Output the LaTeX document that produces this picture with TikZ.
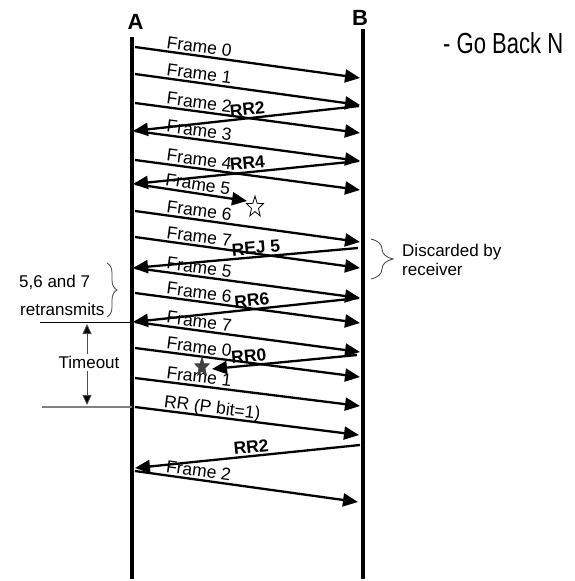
\documentclass[tikz,border=0pt]{standalone}
\usepackage{fontspec}
\usepackage{graphicx}
\setmainfont{Liberation Sans}
\usetikzlibrary{arrows.meta,shapes.geometric,decorations.pathreplacing}

\begin{document}
\begin{tikzpicture}[x=1pt,y=-1pt,
  lifeline/.style={line width=3.2pt},
  msg/.style={line width=2.3pt,-{Triangle[length=15pt,width=13pt]}},
  flab/.style={sloped,above=2pt,inner sep=0pt,text depth=0pt,font=\fontsize{17.5}{20}\selectfont},
  rlab/.style={sloped,above=2pt,inner sep=0pt,text depth=0pt,font=\fontsize{17.5}{20}\selectfont\bfseries},
  note/.style={inner sep=0pt,font=\fontsize{17}{20}\selectfont},
  station/.style={inner sep=0pt,font=\fontsize{22}{24}\selectfont\bfseries},
  curly/.style={decorate,line width=0.8pt,draw=black!75},
  lost/.style={star,star points=5,star point ratio=2.4,inner sep=0pt,transform shape}
]
\useasboundingbox (0,0) rectangle (575,581);

% stations and their time lines
\node[station,anchor=base] (A) at (135.5,29) {A};
\node[station,anchor=base] (B) at (360,25) {B};
\coordinate (Atop) at (132,37);   \coordinate (Abot) at (132,579);
\coordinate (Btop) at (363,29);   \coordinate (Bbot) at (363,579);
\draw[lifeline] (Atop) -- (Abot);
\draw[lifeline] (Btop) -- (Bbot);

\node[anchor=base west,inner sep=0pt] (title) at (443,53)
  {\scalebox{0.76}[1]{\fontsize{29}{30}\selectfont - Go Back N}};

% end points on the time lines
\coordinate (f0s) at (135,47);  \coordinate (f0e) at (360,78);
\coordinate (f1s) at (135,74);  \coordinate (f1e) at (360,105);
\coordinate (f2s) at (135,103); \coordinate (f2e) at (360,133);
\coordinate (r2s) at (359,106); \coordinate (r2e) at (133,131);
\coordinate (f3s) at (135,131); \coordinate (f3e) at (360,161);
\coordinate (f4s) at (135,160); \coordinate (f4e) at (360,190);
\coordinate (r4s) at (359,161); \coordinate (r4e) at (133,184);
\coordinate (f5s) at (135,184); \coordinate (f5e) at (247,201);
\coordinate (f6s) at (135,211); \coordinate (f6e) at (360,242);
\coordinate (f7s) at (135,237); \coordinate (f7e) at (360,268);
\coordinate (rjs) at (358,248); \coordinate (rje) at (133,268);
\coordinate (g5s) at (135,268); \coordinate (g5e) at (360,298);
\coordinate (g6s) at (135,293); \coordinate (g6e) at (360,323);
\coordinate (r6s) at (359,298); \coordinate (r6e) at (133,322);
\coordinate (g7s) at (135,322); \coordinate (g7e) at (360,352);
\coordinate (g0s) at (135,348); \coordinate (g0e) at (360,377);
\coordinate (r0s) at (357,355); \coordinate (r0e) at (212,369);
\coordinate (g1s) at (135,378); \coordinate (g1e) at (360,406);
\coordinate (pps) at (135,407); \coordinate (ppe) at (359,435);
\coordinate (q2s) at (360,445); \coordinate (q2e) at (135,468);
\coordinate (h2s) at (135,471); \coordinate (h2e) at (358,502);

% frames from A to B
\draw[msg] (f0s) -- node[flab,pos=.28]{Frame 0} (f0e);
\draw[msg] (f1s) -- node[flab,pos=.28]{Frame 1} (f1e);
\draw[msg] (f2s) -- node[flab,pos=.28]{Frame 2} (f2e);
\draw[msg] (f3s) -- node[flab,pos=.28]{Frame 3} (f3e);
\draw[msg] (f4s) -- node[flab,pos=.28]{Frame 4} (f4e);
\draw[msg] (f5s) -- node[flab,pos=.55]{Frame 5} (f5e);
\draw[msg] (f6s) -- node[flab,pos=.28]{Frame 6} (f6e);
\draw[msg] (f7s) -- node[flab,pos=.28]{Frame 7} (f7e);
\draw[msg] (g5s) -- node[flab,pos=.28]{Frame 5} (g5e);
\draw[msg] (g6s) -- node[flab,pos=.28]{Frame 6} (g6e);
\draw[msg] (g7s) -- node[flab,pos=.28]{Frame 7} (g7e);
\draw[msg] (g0s) -- node[flab,pos=.28]{Frame 0} (g0e);
\draw[msg] (g1s) -- node[flab,pos=.28]{Frame 1} (g1e);
\draw[msg] (pps) -- node[flab,pos=.34]{RR (P bit=1)} (ppe);
\draw[msg] (h2s) -- node[flab,pos=.28]{Frame 2} (h2e);

% replies from B to A
\draw[msg] (r2s) -- node[rlab,pos=.49]{RR2} (r2e);
\draw[msg] (r4s) -- node[rlab,pos=.49]{RR4} (r4e);
\draw[msg] (rjs) -- node[rlab,pos=.45]{REJ 5} (rje);
\draw[msg] (r6s) -- node[rlab,pos=.47]{RR6} (r6e);
\draw[msg] (r0s) -- node[rlab,pos=.74]{RR0} (r0e);
\draw[msg] (q2s) -- node[rlab,pos=.48]{RR2} (q2e);

% lost frame and lost acknowledgement
\node[lost,draw,line width=0.8pt,minimum size=22pt,xscale=0.8] (loss1) at (255,207) {};
\node[lost,draw=black!75,fill=black!75,minimum size=21pt,xscale=0.75] (loss2) at (202,367) {};

% notes on the right
\coordinate (dbt) at (371,239); \coordinate (dbb) at (371,279);
\draw[curly,decoration={brace,amplitude=22pt}] (dbt) -- (dbb);
\node[note,anchor=base west] (disc1) at (402,256) {Discarded by};
\node[note,anchor=base west] (disc2) at (402,275) {receiver};

% notes on the left
\coordinate (rbt) at (107,263); \coordinate (rbb) at (107,317);
\draw[curly,decoration={brace,amplitude=10pt}] (rbt) -- (rbb);
\node[note,anchor=base west] (ret1) at (19,287) {5,6 and 7};
\node[note,anchor=base west] (ret2) at (20,315) {retransmits};

\coordinate (to1a) at (40,322);  \coordinate (to1b) at (132,322);
\coordinate (to2a) at (42,407);  \coordinate (to2b) at (132,407);
\draw[line width=1pt] (to1a) -- (to1b);
\draw[line width=1.3pt,draw=black!50] (to2a) -- (to2b);
\coordinate (tu) at (87,324); \coordinate (td) at (87,405);
\draw[line width=0.8pt,draw=black!70,
  {Triangle[length=10pt,width=9pt,fill=black]}-{Triangle[length=10pt,width=9pt,fill=black]}] (tu) -- (td);
\node[note,fill=white,inner sep=2pt] (timeout) at (89,362.5) {Timeout};
\end{tikzpicture}
\end{document}
